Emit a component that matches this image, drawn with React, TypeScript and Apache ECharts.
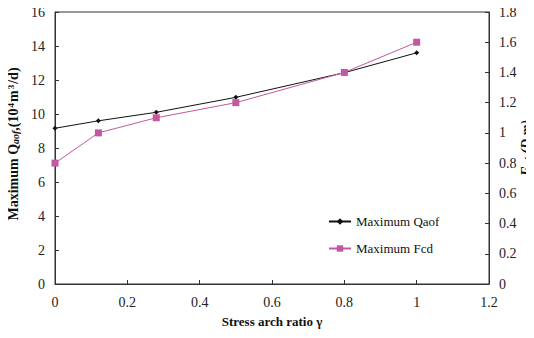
import React, { useEffect, useRef } from "react";
import * as echarts from "echarts";

// Stress arch ratio γ for each simulated case
const gammaValues = [0, 0.12, 0.28, 0.5, 0.8, 1.0];
// Maximum open-flow capacity, 10^4 m^3/d
const qaofValues = [9.16, 9.6, 10.1, 10.98, 12.43, 13.6];
// Maximum fracture conductivity, D·m
const fcdValues = [0.8, 1.0, 1.1, 1.2, 1.4, 1.6];

const FONT = "Liberation Serif";

export default function App() {
  const ref = useRef<HTMLDivElement>(null);

  useEffect(() => {
    if (!ref.current) return;
    const chart = echarts.init(ref.current, null, { renderer: "svg" });
    const tickLabel = { fontFamily: FONT, fontSize: 14, color: "#222" };
    chart.setOption({
      animation: false,
      backgroundColor: "#ffffff",
      textStyle: { fontFamily: FONT },
      grid: {
        left: 55,
        right: 45,
        top: 12,
        bottom: 54,
        containLabel: false,
        outerBoundsMode: "none",
        show: true,
        borderColor: "#333",
        borderWidth: 1,
      },
      legend: {
        left: 323,
        top: 210,
        orient: "vertical",
        itemGap: 14,
        itemWidth: 22,
        itemHeight: 8,
        textStyle: { fontFamily: FONT, fontSize: 13, color: "#111" },
        data: ["Maximum Qaof", "Maximum Fcd"],
      },
      xAxis: {
        type: "value",
        min: 0,
        max: 1.2,
        interval: 0.2,
        name: "Stress arch ratio γ",
        nameLocation: "middle",
        nameGap: 31,
        nameTextStyle: { fontFamily: FONT, fontSize: 13, fontWeight: "bold", color: "#111" },
        axisLine: { lineStyle: { color: "#333" } },
        axisTick: { inside: true, length: 4, lineStyle: { color: "#333" } },
        axisLabel: { ...tickLabel, margin: 11 },
        splitLine: { show: false },
      },
      yAxis: [
        {
          type: "value",
          min: 0,
          max: 16,
          interval: 2,
          name: "{b|Maximum Q}{s|aof}{b|,(10}{u|4}{b|m}{u|3}{b|/d)}",
          nameLocation: "middle",
          nameGap: 33,
          nameRotate: 90,
          nameTextStyle: {
            fontFamily: FONT,
            color: "#111",
            padding: [0, 0, 0, 8],
            rich: {
              b: { fontFamily: FONT, fontSize: 14, fontWeight: "bold", color: "#111" },
              s: { fontFamily: FONT, fontSize: 10, fontWeight: "bold", fontStyle: "italic", color: "#111", verticalAlign: "bottom", padding: [4, 0, 0, 0] },
              u: { fontFamily: FONT, fontSize: 9, fontWeight: "bold", color: "#111", verticalAlign: "top", padding: [0, 1, 5, 1] },
            },
          },
          axisLine: { show: true, lineStyle: { color: "#333" } },
          axisTick: { show: true, inside: true, length: 4, lineStyle: { color: "#333" } },
          axisLabel: { ...tickLabel, margin: 10 },
          splitLine: { show: false },
        },
        {
          type: "value",
          position: "right",
          min: 0,
          max: 1.8,
          interval: 0.2,
          name: "{i|F}{s|cd}{i| (D m)}",
          nameLocation: "middle",
          nameGap: 30,
          nameMoveOverlap: false,
          nameRotate: 90,
          nameTextStyle: {
            fontFamily: FONT,
            color: "#111",
            rich: {
              i: { fontFamily: FONT, fontSize: 14, fontWeight: "bold", fontStyle: "italic", color: "#111" },
              s: { fontFamily: FONT, fontSize: 10, fontWeight: "bold", fontStyle: "italic", color: "#111", verticalAlign: "bottom", padding: [4, 0, 0, 0] },
            },
          },
          axisLine: { show: true, lineStyle: { color: "#333" } },
          axisTick: { show: true, inside: true, length: 4, lineStyle: { color: "#333" } },
          axisLabel: { ...tickLabel, margin: 10 },
          splitLine: { show: false },
        },
      ],
      series: [
        {
          name: "Maximum Qaof",
          type: "line",
          yAxisIndex: 0,
          data: gammaValues.map((g, i) => [g, qaofValues[i]]),
          symbol: "diamond",
          symbolSize: 5,
          lineStyle: { color: "#111", width: 1 },
          itemStyle: { color: "#111" },
        },
        {
          name: "Maximum Fcd",
          type: "line",
          yAxisIndex: 1,
          data: gammaValues.map((g, i) => [g, fcdValues[i]]),
          symbol: "rect",
          symbolSize: 7,
          lineStyle: { color: "#c2589f", width: 1 },
          itemStyle: { color: "#c2589f" },
        },
      ],
    });
    return () => chart.dispose();
  }, []);

  return <div ref={ref} style={{ width: 534, height: 338, margin: -8 }} />;
}
